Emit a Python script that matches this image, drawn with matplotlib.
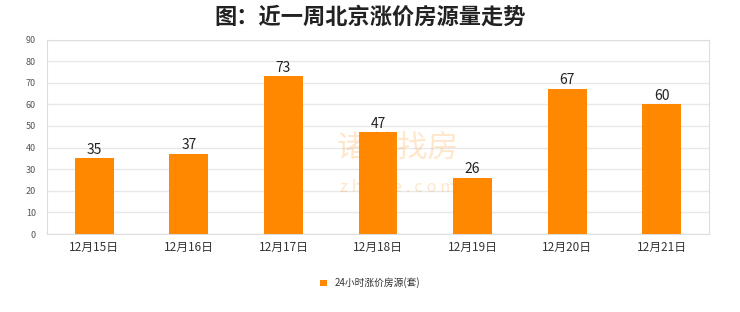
import matplotlib.pyplot as plt
import numpy as np

plt.rcParams['font.family'] = ['Noto Sans CJK SC', 'DejaVu Sans']

dates = ['12月15日', '12月16日', '12月17日', '12月18日', '12月19日', '12月20日', '12月21日']
counts = [35, 37, 73, 47, 26, 67, 60]
series_name = '24小时涨价房源(套)'

fig = plt.figure(figsize=(7.4, 3.12), dpi=100)
ax = fig.add_axes([47 / 740, 1 - 234 / 312, (709 - 47) / 740, (234 - 39.5) / 312])

x = np.arange(len(dates))
bars = ax.bar(x, counts, width=0.41, color='#ff8800', label=series_name, zorder=3)
for xi, v in zip(x, counts):
    ax.text(xi, v + 0.8, str(v), ha='center', va='bottom', fontsize=10, color='#222222', zorder=4)

ax.set_xlim(-0.5, len(dates) - 0.5)
ax.set_ylim(0, 90)
ax.set_yticks(range(0, 91, 10))
ax.set_xticks(x)
ax.set_xticklabels(dates)
ax.tick_params(axis='x', length=0, labelsize=8.5, colors='#333333', pad=5)
ax.tick_params(axis='y', length=0, labelsize=6.5, colors='#555555', pad=8)
ax.grid(axis='y', color='#e8e8e8', linewidth=1, zorder=0)
for s in ax.spines.values():
    s.set_color('#dddddd')

# watermark, behind the bars; kept a bit smaller so it clears the value labels
ax.text((398 - 47) / 662, (234 - 148) / 194.5, '诸葛找房', transform=ax.transAxes,
        ha='center', va='center', fontsize=22, color='#ff8800', alpha=0.2, zorder=2)
ax.text((398 - 47) / 662, (234 - 187) / 194.5, 'z h u g e . c o m', transform=ax.transAxes,
        ha='center', va='center', fontsize=12, color='#ff8800', alpha=0.2, zorder=2)

fig.text(0.5, 1 - 17 / 312, '图：近一周北京涨价房源量走势', ha='center', va='center',
         fontsize=16, fontweight='bold', color='#222222')

fig.legend(loc='center', bbox_to_anchor=(0.5, 1 - 283 / 312), frameon=False,
           fontsize=7, handlelength=0.7, handleheight=0.7, handletextpad=0.8,
           labelcolor='#333333')

fig.savefig('out.png', dpi=100)
